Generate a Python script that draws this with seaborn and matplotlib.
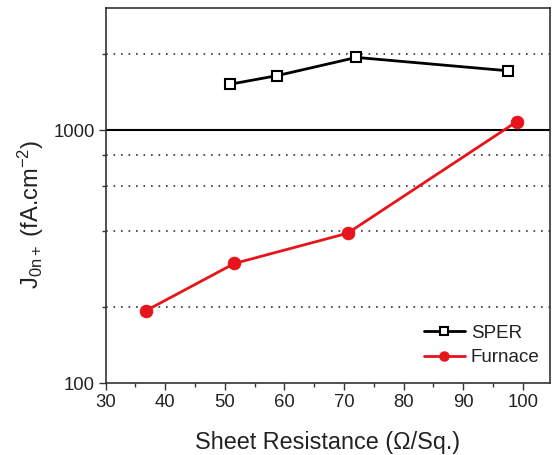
import matplotlib
matplotlib.use("Agg")
import matplotlib.pyplot as plt
import matplotlib.ticker as mticker
import seaborn as sns
import pandas as pd

sper_x = [50.8, 58.7, 72.1, 97.6]
sper_y = [1516, 1639, 1936, 1714]
furnace_x = [36.7, 51.6, 70.6, 99.0]
furnace_y = [193, 297, 391, 1079]
x_ticks = [30, 40, 50, 60, 70, 80, 90, 100]
y_ticks = [100, 1000]
y_grid_dotted = [200, 400, 600, 800, 2000]

sns.set_theme(style="white")
plt.rcParams['font.family'] = ['Liberation Sans', 'DejaVu Sans']
plt.rcParams['mathtext.fontset'] = 'custom'
plt.rcParams['mathtext.rm'] = 'Liberation Sans'
plt.rcParams['mathtext.it'] = 'Liberation Sans'

fig = plt.figure(figsize=(5.52, 4.55), dpi=100)
ax = fig.add_axes([0.1915, 0.158, 0.805, 0.824])

df_s = pd.DataFrame({"x": sper_x, "y": sper_y})
df_f = pd.DataFrame({"x": furnace_x, "y": furnace_y})

red = '#e8141b'
sns.lineplot(data=df_s, x="x", y="y", ax=ax, color='black', lw=2,
             marker='s', markersize=7, markerfacecolor='white',
             markeredgecolor='black', markeredgewidth=1.5, label='SPER', zorder=4)
sns.lineplot(data=df_f, x="x", y="y", ax=ax, color=red, lw=2,
             marker='o', markersize=9, markerfacecolor=red,
             markeredgecolor=red, label='Furnace', zorder=4)

ax.set_yscale('log')
ax.set_xlim(30, 104.6)
ax.set_ylim(100, 3030)

ax.xaxis.set_major_locator(mticker.FixedLocator(x_ticks))
ax.xaxis.set_minor_locator(mticker.MultipleLocator(5))
ax.yaxis.set_major_locator(mticker.FixedLocator(y_ticks))
ax.yaxis.set_major_formatter(mticker.FixedFormatter([str(v) for v in y_ticks]))
ax.yaxis.set_minor_locator(mticker.FixedLocator(y_grid_dotted))
ax.yaxis.set_minor_formatter(mticker.NullFormatter())

for v in y_grid_dotted:
    ax.axhline(v, color='#333333', lw=1.2, ls=(0, (1, 3.5)), zorder=1)
ax.axhline(1000, color='black', lw=1.5, zorder=1)

ax.tick_params(axis='both', which='major', direction='out', length=5, width=1,
               color='#333333', labelsize=13.3, labelcolor='#222222', pad=3,
               bottom=True, left=True)
ax.tick_params(axis='both', which='minor', direction='out', length=3, width=1,
               color='#333333', bottom=True, left=True)

for s in ax.spines.values():
    s.set_color('#333333')
    s.set_linewidth(1.2)

ax.set_xlabel('Sheet Resistance (Ω/Sq.)', fontsize=16.8, color='#222222', labelpad=14)
ax.set_ylabel(r'J$_{\mathregular{0n+}}$ (fA.cm$^{\mathregular{-2}}$)', fontsize=17,
              color='#222222')
ax.yaxis.set_label_coords(-0.135, 0.45)

leg = ax.legend(loc='lower right', bbox_to_anchor=(1.014, 0.0), frameon=False,
                fontsize=13.5, handlelength=2.2, handletextpad=0.3,
                borderaxespad=0.5, labelspacing=0.4, markerscale=0.75)
for t in leg.get_texts():
    t.set_color('#222222')

fig.savefig('out.png', dpi=100)
